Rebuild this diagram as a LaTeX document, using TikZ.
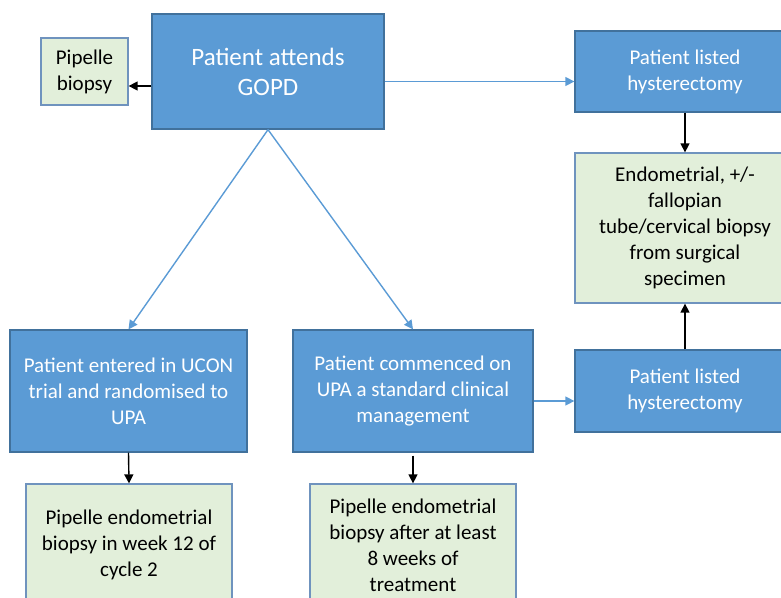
\documentclass[tikz,border=0pt]{standalone}
\usepackage{fontspec}
\setmainfont{Carlito}
\usetikzlibrary{arrows.meta}
\definecolor{bfill}{HTML}{5B9BD5}
\definecolor{bdraw}{HTML}{41719C}
\definecolor{gfill}{HTML}{E2EFDA}
\definecolor{gdraw}{HTML}{6F93BE}
\tikzset{
  bluebox/.style={draw=bdraw, fill=bfill, line width=1.3pt, text=white, align=center, inner sep=0pt,
    font=\fontsize{21}{26}\selectfont},
  greenbox/.style={draw=gdraw, fill=gfill, line width=1.3pt, text=black, align=center, inner sep=0pt,
    font=\fontsize{21}{26}\selectfont},
  blueline/.style={draw=bfill, line width=1.4pt, -{Triangle[length=9pt,width=9pt]}},
  blackline/.style={draw=black, line width=1.4pt, -{Triangle[length=9pt,width=9pt]}}
}
\begin{document}
\begin{tikzpicture}[x=1pt,y=-1pt]
\useasboundingbox (0,0) rectangle (781,597);
\node[greenbox, minimum width=87pt, minimum height=67pt] (pb) at (84.5,71.5) {Pipelle\\biopsy};
\node[bluebox, minimum width=232pt, minimum height=115pt, font=\fontsize{25}{30}\selectfont] (g) at (268,71.5) {Patient attends\\GOPD};
\node[bluebox, minimum width=220pt, minimum height=81pt] (h1) at (685,71.5) {Patient listed\\hysterectomy};
\node[greenbox, minimum width=220pt, minimum height=150pt] (endo) at (685,228) {Endometrial, +/-\\fallopian\\tube/cervical biopsy\\from surgical\\specimen};
\node[bluebox, minimum width=220pt, minimum height=82pt] (h2) at (685,391) {Patient listed\\hysterectomy};
\node[bluebox, minimum width=237pt, minimum height=122pt] (ucon) at (128.5,391) {Patient entered in UCON\\trial and randomised to\\UPA};
\node[bluebox, minimum width=240pt, minimum height=122pt] (upa) at (413,391) {Patient commenced on\\UPA a standard clinical\\management};
\node[greenbox, minimum width=206pt, minimum height=122pt] (p1) at (129,545) {Pipelle endometrial\\biopsy in week 12 of\\cycle 2};
\node[greenbox, minimum width=206pt, minimum height=122pt] (p2) at (413,545) {Pipelle endometrial\\biopsy after at least\\8 weeks of\\treatment};

\draw[blackline] ([yshift=-14.5pt]g.west) -- ([yshift=-14.5pt]pb.east);
\draw[blueline] ([yshift=-10pt]g.east) -- ([yshift=-10pt]h1.west);
\draw[blueline] (g.south) -- (ucon.north);
\draw[blueline] (g.south) -- (upa.north);
\draw[blueline] ([yshift=-10pt]upa.east) -- ([yshift=-10pt]h2.west);
\draw[blackline] (h1.south) -- (endo.north);
\draw[blackline] (h2.north) -- (endo.south);
\draw[blackline] (ucon.south) -- (p1.north);
\draw[blackline] ([yshift=-3pt]upa.south) -- (p2.north);
\end{tikzpicture}
\end{document}
